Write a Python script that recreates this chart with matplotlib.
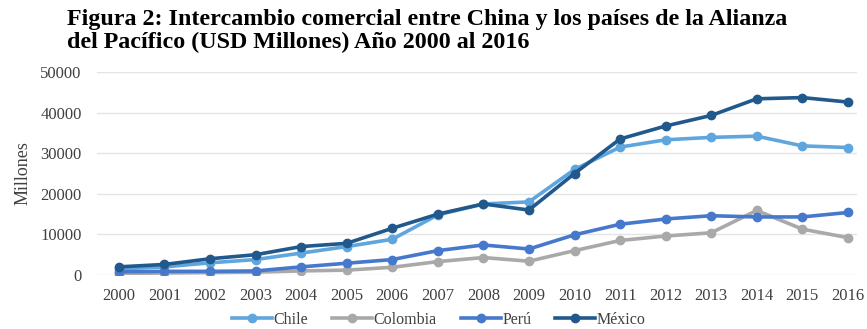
import numpy as np
import matplotlib.pyplot as plt
import matplotlib as mpl

mpl.rcParams['font.family'] = 'Liberation Serif'

# Intercambio comercial con China, USD millones
years = [str(y) for y in range(2000, 2017)]
chile = [1500, 2000, 3000, 3800, 5400, 7000, 8800, 14800, 17500, 18000,
         26000, 31500, 33300, 33900, 34200, 31800, 31400]
colombia = [300, 500, 600, 700, 1000, 1200, 1900, 3300, 4300, 3400,
            6000, 8500, 9600, 10400, 15900, 11300, 9200]
peru = [800, 900, 900, 1000, 2000, 2900, 3800, 6000, 7400, 6400,
        9900, 12500, 13800, 14600, 14300, 14300, 15400]
mexico = [2000, 2600, 4000, 5000, 7000, 7800, 11500, 15000, 17500, 16000,
          25000, 33500, 36700, 39300, 43400, 43700, 42600]

series = [('Chile', chile, '#5fa6de'),
          ('Colombia', colombia, '#a9a9a9'),
          ('Perú', peru, '#4679cc'),
          ('México', mexico, '#22598c')]

fig = plt.figure(figsize=(8.67, 3.29), dpi=100)
ax = fig.add_axes([97/867, 1-275/329, (857-97)/867, (275-72)/329])

x = np.arange(len(years))
for name, vals, col in series:
    ax.plot(x, vals, color=col, lw=2.6, marker='o', ms=6, label=name)

ax.set_ylim(0, 50000)
ax.set_yticks(range(0, 50001, 10000))
ax.set_xlim(-0.48, 16.2)
ax.set_xticks(x)
ax.set_xticklabels(years)
ax.tick_params(length=0, labelsize=12, colors='#404040')
ax.tick_params(axis='y', pad=11)
ax.tick_params(axis='x', pad=9)
ax.grid(axis='y', color='#e4e4e4', lw=1)
ax.set_axisbelow(True)
for s in ax.spines.values():
    s.set_visible(False)

ax.set_ylabel('Millones', fontsize=13, color='#404040', labelpad=6)

fig.text(67/867, 1-9/329, 'Figura 2: Intercambio comercial entre China y los países de la Alianza\n'
         'del Pacífico (USD Millones) Año 2000 al 2016',
         fontsize=17.3, fontweight='bold', va='top', ha='left', linespacing=1.12)

leg = ax.legend(loc='center', bbox_to_anchor=(0.45, -0.22), ncol=4, frameon=False,
                fontsize=11.5, handlelength=2.5, handletextpad=0.1, columnspacing=1.5,
                labelcolor='#404040', borderaxespad=0)

fig.savefig('out.png', dpi=100)
